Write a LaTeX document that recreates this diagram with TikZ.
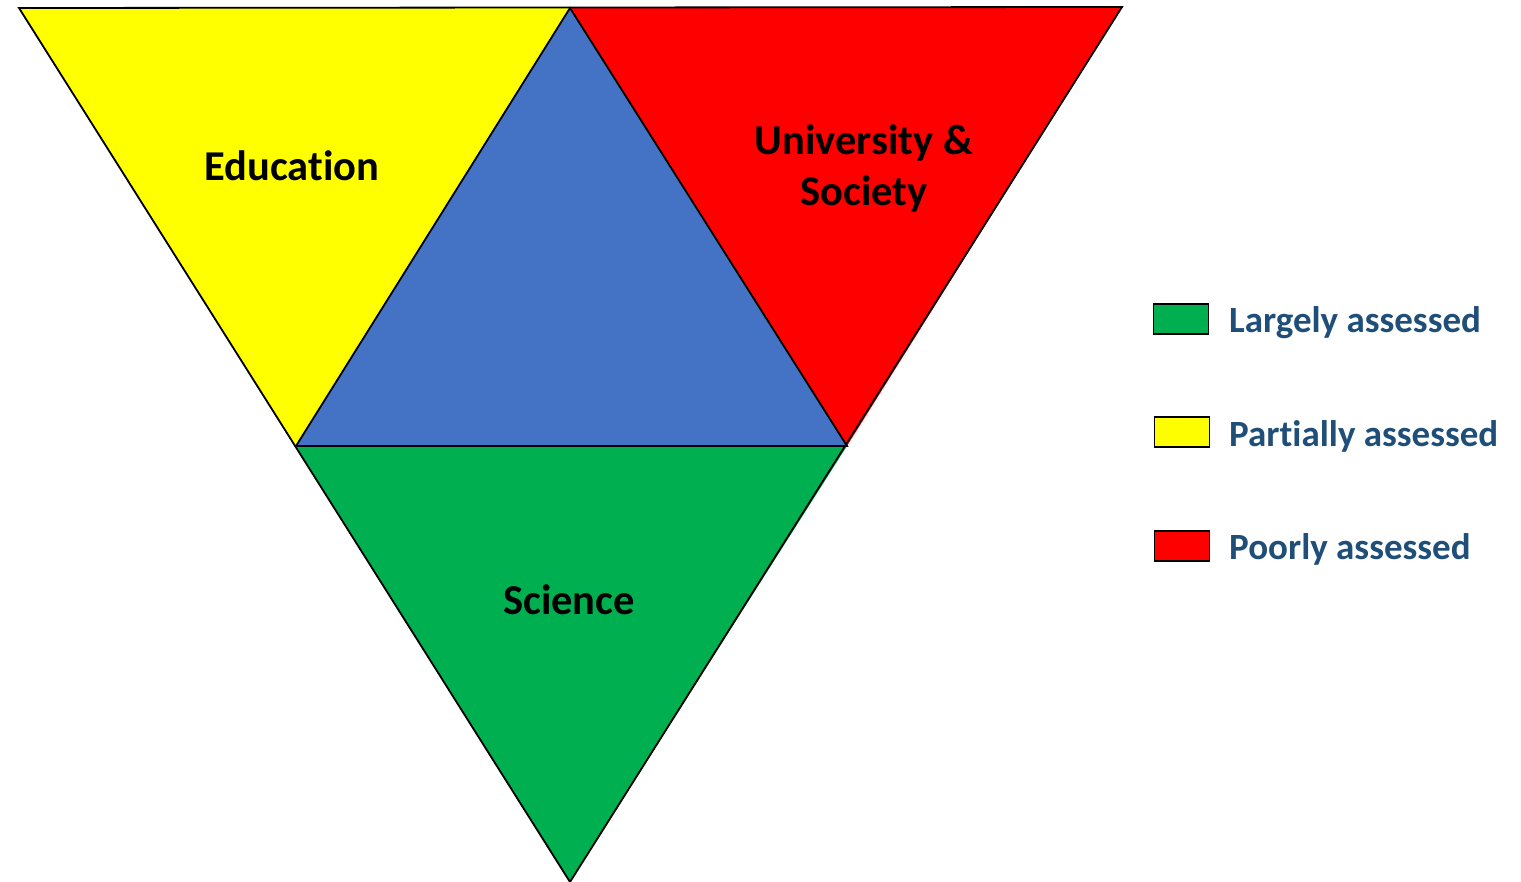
\documentclass[tikz,border=0pt]{standalone}
\usepackage{fontspec}
\setmainfont[Ligatures=NoCommon]{Carlito}
\definecolor{cyel}{RGB}{255,255,0}
\definecolor{cred}{RGB}{255,0,0}
\definecolor{cblue}{RGB}{68,114,196}
\definecolor{cgreen}{RGB}{0,176,80}
\definecolor{ctxt}{RGB}{31,78,121}
\begin{document}
\begin{tikzpicture}[x=1pt,y=-1pt,
  tri/.style={draw=black,line width=1.8pt,line join=miter},
  lab/.style={font=\bfseries\fontsize{42.5}{51}\selectfont,text=black,align=center},
  legbox/.style={draw=black,line width=1.8pt,minimum width=55pt,minimum height=30pt,inner sep=0pt},
  legtext/.style={font=\bfseries\fontsize{37}{44}\selectfont,text=ctxt,anchor=west,inner sep=0pt}]
\useasboundingbox (0,0) rectangle (1521,882);
\coordinate (TL) at (19,8);
\coordinate (TM) at (570,8);
\coordinate (TR) at (1122,7);
\coordinate (ML) at (296,446);
\coordinate (MR) at (847,446);
\coordinate (B) at (570,882);
\fill[cyel] (TL) -- (TM) -- (ML) -- cycle;
\fill[cred] (TM) -- (TR) -- (MR) -- cycle;
\fill[cblue] (TM) -- (ML) -- (MR) -- cycle;
\fill[cgreen] (ML) -- (MR) -- (B) -- cycle;
\draw[tri] (TL) -- (TR) -- (B) -- cycle;
\draw[tri] (TM) -- (ML) -- (MR) -- cycle;
\node[lab] (edu) at (292,166) {Education};
\node[lab] (uni) at (864,168) {University \&\\Society};
\node[lab] (sci) at (569,600) {Science};
\node[legbox,fill=cgreen] (g) at (1181,319) {};
\node[legbox,fill=cyel] (y) at (1182,432) {};
\node[legbox,fill=cred] (r) at (1182,546) {};
\node[legtext] (gt) at (1229,323) {Largely assessed};
\node[legtext] (yt) at (1229,436) {Partially assessed};
\node[legtext] (rt) at (1229,549) {Poorly assessed};
\end{tikzpicture}
\end{document}
